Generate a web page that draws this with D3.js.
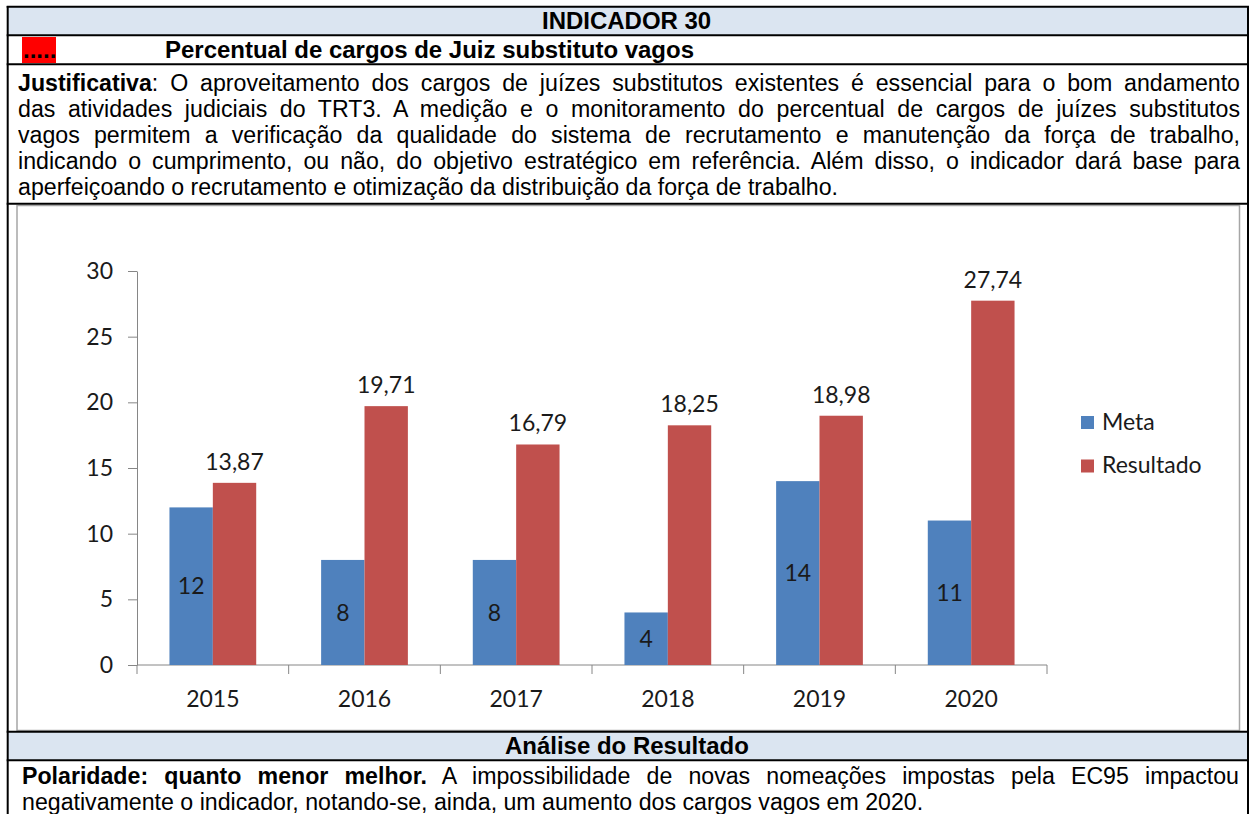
<!DOCTYPE html>
<html>
<head>
<meta charset="utf-8">
<title>Indicador 30</title>
<style type="text/css">
    body{
        margin:0;
        width:1251px;
        height:814px;
        overflow:hidden;
        background:#fff;
        position:relative;
        font-family:"Liberation Sans", Arial, sans-serif;
        color:#000;
    }
    svg{position:absolute;left:0;top:0}
    .ln{position:absolute;white-space:nowrap;font-size:23px;line-height:24px;transform-origin:0 50%}
    .ln.just{text-align:justify;text-align-last:justify;white-space:normal}
    .ln.bold{font-weight:bold}
</style>
</head>
<body>

<script src="https://cdn.jsdelivr.net/npm/d3@7"></script>
<script type="text/javascript">

// ---- data
var years     = ["2015", "2016", "2017", "2018", "2019", "2020"];
var meta      = [12, 8, 8, 4, 14, 11];
var resultado = [13.87, 19.71, 16.79, 18.25, 18.98, 27.74];
var series    = ["Meta", "Resultado"];
var yTicks    = [0, 5, 10, 15, 20, 25, 30];

// ---- texts of the table
var headTitle   = "INDICADOR 30";
var subTitle    = "Percentual de cargos de Juiz substituto vagos";
var justLead    = "Justificativa";
var justLines   = [
    ": O aproveitamento dos cargos de juízes substitutos existentes é essencial para o bom andamento",
    "das atividades judiciais do TRT3. A medição e o monitoramento do percentual de cargos de juízes substitutos",
    "vagos permitem a verificação da qualidade do sistema de recrutamento e manutenção da força de trabalho,",
    "indicando o cumprimento, ou não, do objetivo estratégico em referência. Além disso, o indicador dará base para",
    "aperfeiçoando o recrutamento e otimização da distribuição da força de trabalho."
];
var analiseHead = "Análise do Resultado";
var analiseLead = "Polaridade: quanto menor melhor.";
var analiseLines = [
    " A impossibilidade de novas nomeações impostas pela EC95 impactou",
    "negativamente o indicador, notando-se, ainda, um aumento dos cargos vagos em 2020."
];

var W = 1251, H = 814;
var blue = "#4F81BD", red = "#C0504D", headFill = "#DBE5F1";

var svg = d3.select("body").append("svg").attr("width", W).attr("height", H);

/*-----------------------------------------------------------------------
    table background + borders
-----------------------------------------------------------------------*/
svg.append("rect").attr("x", 8).attr("y", 7).attr("width", 1240).attr("height", 28).attr("fill", headFill);
svg.append("rect").attr("x", 8).attr("y", 732).attr("width", 1240).attr("height", 28).attr("fill", headFill);

// chart frame
svg.append("rect").attr("x", 17).attr("y", 205.5).attr("width", 1222.5).attr("height", 525)
    .attr("fill", "#fff").attr("stroke", "#a6a6a6").attr("stroke-width", 1.5);

// little red box
svg.append("rect").attr("x", 22).attr("y", 37).attr("width", 34).attr("height", 26).attr("fill", "#ff0000");

var hLines = [6.7, 35.2, 64.3, 203.8, 731.7, 760.3];
svg.selectAll(".hl").data(hLines).enter().append("line")
    .attr("x1", 6.7).attr("x2", 1249).attr("y1", d=>d).attr("y2", d=>d)
    .attr("stroke", "#000").attr("stroke-width", 2);
svg.append("line").attr("x1", 7.7).attr("x2", 7.7).attr("y1", 6).attr("y2", H).attr("stroke", "#000").attr("stroke-width", 2);
svg.append("line").attr("x1", 1248).attr("x2", 1248).attr("y1", 6).attr("y2", H).attr("stroke", "#000").attr("stroke-width", 2);

/*-----------------------------------------------------------------------
    chart
-----------------------------------------------------------------------*/
var plot = {left:137, right:1047, top:271, bottom:665};

var x0 = d3.scaleBand().domain(years).range([plot.left, plot.right]).paddingInner(0.428).paddingOuter(0.214);
var x1 = d3.scaleBand().domain(series).range([0, x0.bandwidth()]);
var y  = d3.scaleLinear().domain([0, 30]).range([plot.bottom, plot.top]);

var ptBR = d3.formatLocale({decimal:",", thousands:".", grouping:[3], currency:["R$", ""]});
var fmt2 = ptBR.format(".2f");

var chartFont = "Lato, 'Open Sans', sans-serif";
var fs = 23;

// y axis
var yAxis = svg.append("g").attr("transform", "translate(" + plot.left + ",0)")
    .call(d3.axisLeft(y).tickValues(yTicks).tickSize(9).tickPadding(15).tickSizeOuter(0));
yAxis.select(".domain").attr("stroke", "#868686");
yAxis.selectAll(".tick line").attr("stroke", "#868686");
yAxis.selectAll(".tick text").attr("font-family", chartFont).attr("font-size", fs).attr("fill", "#1a1a1a");

// x axis: labels from the band scale, ticks between categories
var xAxis = svg.append("g").attr("transform", "translate(0," + plot.bottom + ")")
    .call(d3.axisBottom(x0).tickSize(0).tickPadding(26).tickSizeOuter(0));
xAxis.select(".domain").remove();
xAxis.selectAll(".tick text").attr("font-family", chartFont).attr("font-size", fs).attr("fill", "#1a1a1a");

svg.append("line").attr("x1", plot.left).attr("x2", plot.right).attr("y1", plot.bottom).attr("y2", plot.bottom)
    .attr("stroke", "#868686");
svg.selectAll(".xtick").data(d3.range(years.length + 1)).enter().append("line")
    .attr("x1", i=>plot.left + i * x0.step()).attr("x2", i=>plot.left + i * x0.step())
    .attr("y1", plot.bottom).attr("y2", plot.bottom + 9).attr("stroke", "#868686");

var rows = years.map((yr, i) => ({year:yr, Meta:meta[i], Resultado:resultado[i]}));

var groups = svg.selectAll(".grp").data(rows).enter().append("g")
    .attr("transform", d=>"translate(" + x0(d.year) + ",0)");

groups.selectAll("rect").data(d=>series.map(s=>({key:s, value:d[s]}))).enter().append("rect")
    .attr("x", d=>x1(d.key))
    .attr("y", d=>y(d.value))
    .attr("width", x1.bandwidth())
    .attr("height", d=>plot.bottom - y(d.value))
    .attr("fill", d=>d.key == "Meta" ? blue : red);

// Meta labels, inside the bar
groups.append("text")
    .attr("x", x1("Meta") + x1.bandwidth() / 2)
    .attr("y", d=>y(d.Meta / 2))
    .attr("dy", "0.36em")
    .attr("text-anchor", "middle")
    .attr("font-family", chartFont).attr("font-size", fs).attr("fill", "#1a1a1a")
    .text(d=>d.Meta);

// Resultado labels, above the bar
groups.append("text")
    .attr("x", x1("Resultado") + x1.bandwidth() / 2)
    .attr("y", d=>y(d.Resultado) - 13)
    .attr("text-anchor", "middle")
    .attr("font-family", chartFont).attr("font-size", fs).attr("fill", "#1a1a1a")
    .text(d=>fmt2(d.Resultado));

// legend
var legend = svg.selectAll(".leg").data(series).enter().append("g")
    .attr("transform", (d, i)=>"translate(1081," + (416 + i * 43.5) + ")");
legend.append("rect").attr("width", 13).attr("height", 13).attr("fill", d=>d == "Meta" ? blue : red);
legend.append("text").attr("x", 21).attr("y", 13.5)
    .attr("font-family", chartFont).attr("font-size", fs).attr("fill", "#1a1a1a")
    .text(d=>d);

/*-----------------------------------------------------------------------
    text of the table (html so that lines can be justified)
-----------------------------------------------------------------------*/
function natural(html, bold){
    var s = d3.select("body").append("span").attr("class", "ln" + (bold ? " bold" : ""))
        .style("visibility", "hidden").html(html);
    var w = s.node().getBoundingClientRect().width;
    s.remove();
    return w;
}

// horizontal stretch of the page, taken from the unjustified last line
var sx  = 820 / natural(justLines[4]);
var sxB = 529 / natural(subTitle, true);

function line(html, x0_, x1_, cy, opts){
    opts = opts || {};
    var s = opts.bold ? sxB : sx;
    var nat = natural(html, opts.bold);
    if (opts.just && nat * s > (x1_ - x0_) - 2) s = ((x1_ - x0_) - 2) / nat;
    var d = d3.select("body").append("div")
        .attr("class", "ln" + (opts.just ? " just" : "") + (opts.bold ? " bold" : ""))
        .style("top", (cy - 12) + "px")
        .style("transform", "scaleX(" + s + ")")
        .html(html);
    if (opts.center) {
        d.style("left", (opts.center - nat * s / 2) + "px");
    } else {
        d.style("left", x0_ + "px");
        if (opts.just) d.style("width", ((x1_ - x0_) / s) + "px");
    }
    return d;
}

line(headTitle, 0, 0, 21, {bold:true, center:627});
line(subTitle, 165, 694, 50, {bold:true});

// dots in the red box
d3.select("body").append("div").attr("class", "ln bold")
    .style("left", "23px").style("top", "38px").style("font-size", "24px")
    .text(".....");

justLines.forEach(function(t, i){
    var html = i == 0 ? "<b>" + justLead + "</b>" + t : t;
    line(html, 18, 1240, 83 + i * 26, {just: i < justLines.length - 1});
});

line(analiseHead, 0, 0, 746, {bold:true, center:627});
line("<b>" + analiseLead + "</b>" + analiseLines[0], 22, 1239, 776, {just:true});
line(analiseLines[1], 22, 930, 802);

</script>
</body>
</html>
